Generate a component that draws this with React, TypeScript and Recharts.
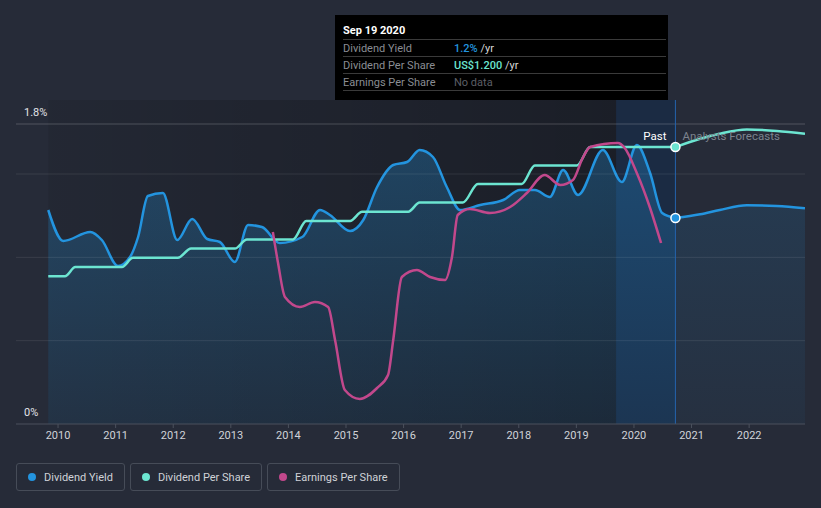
import React from 'react';
import {
  ComposedChart,
  Area,
  Line,
  XAxis,
  YAxis,
  ReferenceLine,
  ReferenceArea,
  ReferenceDot,
} from 'recharts';

// ---------- data ----------
const YEAR_TICKS = [2010, 2011, 2012, 2013, 2014, 2015, 2016, 2017, 2018, 2019, 2020, 2021, 2022];
const YIELD_LABELS = [0, 1.8];
const YIELD_GRID = [0.5, 1.0, 1.5];

const YIELD_PAST_X = [
  2009.83, 2010.09, 2010.56, 2010.76, 2011.04, 2011.25, 2011.39, 2011.56, 2011.82, 2012.07,
  2012.33, 2012.59, 2012.81, 2013.07, 2013.3, 2013.54, 2013.85, 2014.24, 2014.55, 2014.72,
  2015.07, 2015.3, 2015.54, 2015.82, 2016.06, 2016.28, 2016.51, 2016.75, 2016.98, 2017.33,
  2017.73, 2018.02, 2018.28, 2018.54, 2018.77, 2019.03, 2019.46, 2019.79, 2020.05, 2020.28,
  2020.49, 2020.72,
];
const YIELD_PAST_V = [
  1.284, 1.098, 1.152, 1.104, 0.948, 1.002, 1.122, 1.368, 1.386, 1.104,
  1.23, 1.11, 1.092, 0.972, 1.194, 1.182, 1.086, 1.122, 1.284, 1.254,
  1.158, 1.224, 1.422, 1.554, 1.572, 1.644, 1.602, 1.422, 1.284, 1.314,
  1.344, 1.404, 1.404, 1.362, 1.524, 1.374, 1.644, 1.452, 1.674, 1.506,
  1.266, 1.236,
];
const YIELD_FC_X = [2020.72, 2021.15, 2021.49, 2021.96, 2022.48, 2022.97];
const YIELD_FC_V = [1.236, 1.258, 1.284, 1.312, 1.308, 1.294];

const DPS_PAST_X = [
  2009.83, 2010.12, 2010.3, 2011.11, 2011.3, 2012.08, 2012.31, 2013.07, 2013.28, 2014.08,
  2014.31, 2015.07, 2015.28, 2016.08, 2016.28, 2017.03, 2017.29, 2018.05, 2018.28, 2019.01,
  2019.24, 2020.72,
];
const DPS_PAST_V = [
  0.64, 0.64, 0.68, 0.68, 0.72, 0.72, 0.76, 0.76, 0.8, 0.8,
  0.88, 0.88, 0.92, 0.92, 0.96, 0.96, 1.04, 1.04, 1.12, 1.12,
  1.2, 1.2,
];
const DPS_FC_X = [2020.72, 2021.15, 2021.49, 2021.96, 2022.48, 2022.97];
const DPS_FC_V = [1.2, 1.236, 1.258, 1.276, 1.27, 1.258];

const EPS_X = [
  2013.73, 2013.82, 2013.94, 2014.2, 2014.46, 2014.69, 2014.81, 2014.98, 2015.24, 2015.54,
  2015.73, 2015.82, 2015.97, 2016.23, 2016.46, 2016.72, 2016.84, 2016.94, 2017.15, 2017.5,
  2017.85, 2018.14, 2018.45, 2018.72, 2018.94, 2019.11, 2019.24, 2019.72, 2019.84, 2020.05,
  2020.28, 2020.47,
];
const EPS_V = [
  1.92, 1.61, 1.27, 1.17, 1.22, 1.17, 0.84, 0.34, 0.25, 0.36,
  0.49, 0.84, 1.47, 1.54, 1.47, 1.44, 1.67, 2.09, 2.15, 2.11,
  2.17, 2.31, 2.49, 2.39, 2.44, 2.66, 2.77, 2.81, 2.76, 2.51,
  2.16, 1.81,
];

const HOVER_T = 2020.72;
const BAND_START = 2019.69;
const X_DOMAIN = [2009.27, 2022.97];
const YIELD_DOMAIN = [0, 1.944];
const DPS_DOMAIN = [0, 1.404];
const EPS_DOMAIN = [0, 3.24];

const zip = (xs: number[], vs: number[]) => xs.map((t, i) => ({ t, v: vs[i] }));

const yieldPast = zip(YIELD_PAST_X, YIELD_PAST_V);
const yieldFc = zip(YIELD_FC_X, YIELD_FC_V);
const dpsPast = zip(DPS_PAST_X, DPS_PAST_V);
const dpsFc = zip(DPS_FC_X, DPS_FC_V);
const eps = zip(EPS_X, EPS_V);

// ---------- styles ----------
const BG = '#262b38';
const BLUE = '#2394df';
const TEAL = '#6ce5d1';
const PINK = '#c2488c';
const FONT = 'Roboto, "Noto Sans", sans-serif';

const makeYLabel = (text: string) => (props: any) => {
  const vb = props.viewBox || {};
  return (
    <text x={vb.x + 8} y={vb.y - 8} fill="#e2e4e8" fontSize={11} fontFamily={FONT} textAnchor="start">
      {text}
    </text>
  );
};

const PastLabel = (props: any) => {
  const vb = props.viewBox || {};
  const x = vb.x;
  const y = vb.y;
  return (
    <g fontFamily={FONT} fontSize={11.5}>
      <text x={x - 9} y={y + 40} textAnchor="end" fill="#ffffff">Past</text>
      <text x={x + 7} y={y + 40} textAnchor="start" fill="#7d838e">Analysts Forecasts</text>
    </g>
  );
};

const LEGEND = [
  { name: 'Dividend Yield', color: BLUE },
  { name: 'Dividend Per Share', color: TEAL },
  { name: 'Earnings Per Share', color: PINK },
];

const TT_ROWS = [
  { label: 'Dividend Yield', value: '1.2%', color: BLUE, unit: ' /yr' },
  { label: 'Dividend Per Share', value: 'US$1.200', color: TEAL, unit: ' /yr' },
  { label: 'Earnings Per Share', value: 'No data', color: '#5c5f66', unit: '' },
];

export default function App() {
  return (
    <div
      style={{
        position: 'absolute',
        left: 0,
        top: 0,
        width: 821,
        height: 508,
        background: BG,
        overflow: 'hidden',
        fontFamily: FONT,
      }}
    >
      <ComposedChart
        width={821}
        height={508}
        margin={{ top: 100, right: 16, bottom: 54, left: 16 }}
        style={{ fontFamily: FONT }}
      >
        <defs>
          <linearGradient id="pastDark" x1="0" y1="0" x2="1" y2="0">
            <stop offset="0%" stopColor="#000" stopOpacity={0.08} />
            <stop offset="100%" stopColor="#000" stopOpacity={0.3} />
          </linearGradient>
          <linearGradient id="yieldFill" x1="0" y1="0" x2="0" y2="1">
            <stop offset="0%" stopColor={BLUE} stopOpacity={0.3} />
            <stop offset="100%" stopColor={BLUE} stopOpacity={0.1} />
          </linearGradient>
          <linearGradient id="yieldFcFill" x1="0" y1="0" x2="0" y2="1">
            <stop offset="0%" stopColor={BLUE} stopOpacity={0.14} />
            <stop offset="100%" stopColor={BLUE} stopOpacity={0.05} />
          </linearGradient>
        </defs>

        <XAxis
          dataKey="t"
          type="number"
          domain={X_DOMAIN}
          ticks={YEAR_TICKS}
          allowDataOverflow
          height={30}
          axisLine={{ stroke: '#4b515d' }}
          tickLine={{ stroke: '#4b515d' }}
          tickSize={4}
          tickMargin={3}
          tick={{ fill: '#d0d3d8', fontSize: 11, fontFamily: FONT }}
        />
        <YAxis yAxisId="y" type="number" domain={YIELD_DOMAIN} allowDataOverflow hide />
        <YAxis yAxisId="d" type="number" domain={DPS_DOMAIN} allowDataOverflow hide />
        <YAxis yAxisId="e" type="number" domain={EPS_DOMAIN} allowDataOverflow hide />

        <ReferenceArea
          yAxisId="y"
          x1={YIELD_PAST_X[0]}
          x2={BAND_START}
          fill="url(#pastDark)"
          fillOpacity={1}
          stroke="none"
        />
        <ReferenceArea
          yAxisId="y"
          x1={BAND_START}
          x2={HOVER_T}
          fill="#0a2a5a"
          fillOpacity={0.35}
          stroke="none"
        />

        {YIELD_GRID.map((g) => (
          <ReferenceLine key={g} yAxisId="y" y={g} stroke="#ffffff" strokeOpacity={0.09} />
        ))}
        <ReferenceLine
          yAxisId="y"
          y={YIELD_LABELS[1]}
          stroke="#ffffff"
          strokeOpacity={0.2}
          label={makeYLabel(`${YIELD_LABELS[1]}%`)}
        />
        <ReferenceLine
          yAxisId="y"
          y={YIELD_LABELS[0]}
          stroke="#ffffff"
          strokeOpacity={0}
          label={makeYLabel(`${YIELD_LABELS[0]}%`)}
        />

        <Area
          yAxisId="y"
          data={yieldPast}
          dataKey="v"
          type="monotone"
          stroke={BLUE}
          strokeWidth={2.5}
          fill="url(#yieldFill)"
          fillOpacity={1}
          dot={false}
          activeDot={false}
          isAnimationActive={false}
        />
        <Area
          yAxisId="y"
          data={yieldFc}
          dataKey="v"
          type="monotone"
          stroke={BLUE}
          strokeWidth={2.5}
          fill="url(#yieldFcFill)"
          fillOpacity={1}
          dot={false}
          activeDot={false}
          isAnimationActive={false}
        />
        <Line
          yAxisId="d"
          data={dpsPast}
          dataKey="v"
          type="monotone"
          stroke={TEAL}
          strokeWidth={2.5}
          dot={false}
          activeDot={false}
          isAnimationActive={false}
        />
        <Line
          yAxisId="d"
          data={dpsFc}
          dataKey="v"
          type="monotone"
          stroke={TEAL}
          strokeWidth={2.5}
          dot={false}
          activeDot={false}
          isAnimationActive={false}
        />
        <Line
          yAxisId="e"
          data={eps}
          dataKey="v"
          type="monotone"
          stroke={PINK}
          strokeWidth={2.5}
          dot={false}
          activeDot={false}
          isAnimationActive={false}
        />

        <ReferenceLine
          yAxisId="y"
          x={HOVER_T}
          stroke="#2463ad"
          strokeWidth={1}
          label={<PastLabel />}
        />
        <ReferenceDot
          yAxisId="y"
          x={HOVER_T}
          y={YIELD_PAST_V[YIELD_PAST_V.length - 1]}
          r={4.5}
          fill={BLUE}
          stroke="#ffffff"
          strokeWidth={1.5}
        />
        <ReferenceDot
          yAxisId="d"
          x={HOVER_T}
          y={DPS_PAST_V[DPS_PAST_V.length - 1]}
          r={4.5}
          fill={TEAL}
          stroke="#ffffff"
          strokeWidth={1.5}
        />
      </ComposedChart>

      {/* tooltip */}
      <div
        style={{
          position: 'absolute',
          left: 335,
          top: 15,
          width: 333,
          height: 85,
          background: '#000',
          boxSizing: 'border-box',
          padding: '8px 2px 0 8px',
          fontSize: 11,
        }}
      >
        <div
          style={{
            height: 17,
            lineHeight: '16px',
            boxSizing: 'border-box',
            borderBottom: '1px solid #3a3a3a',
            color: '#fff',
            fontWeight: 700,
          }}
        >
          Sep 19 2020
        </div>
        {TT_ROWS.map((r) => (
          <div
            key={r.label}
            style={{
              height: 17,
              lineHeight: '17px',
              boxSizing: 'border-box',
              borderBottom: '1px solid #3a3a3a',
              display: 'flex',
            }}
          >
            <span style={{ width: 111, color: '#8a8d93' }}>{r.label}</span>
            <span style={{ color: r.color, fontWeight: r.unit ? 500 : 400 }}>{r.value}</span>
            <span style={{ color: '#d8d8d8', whiteSpace: 'pre' }}>{r.unit}</span>
          </div>
        ))}
      </div>

      {/* legend */}
      <div
        style={{
          position: 'absolute',
          left: 16,
          top: 463,
          display: 'flex',
          gap: 5,
        }}
      >
        {LEGEND.map((l) => (
          <div
            key={l.name}
            style={{
              height: 28,
              boxSizing: 'border-box',
              border: '1px solid #464c58',
              borderRadius: 3,
              padding: '0 11px 0 11px',
              display: 'flex',
              alignItems: 'center',
              gap: 8,
              color: '#cfd2d7',
              fontSize: 11,
            }}
          >
            <span
              style={{
                width: 8,
                height: 8,
                borderRadius: '50%',
                background: l.color,
                display: 'inline-block',
              }}
            />
            <span>{l.name}</span>
          </div>
        ))}
      </div>
    </div>
  );
}
